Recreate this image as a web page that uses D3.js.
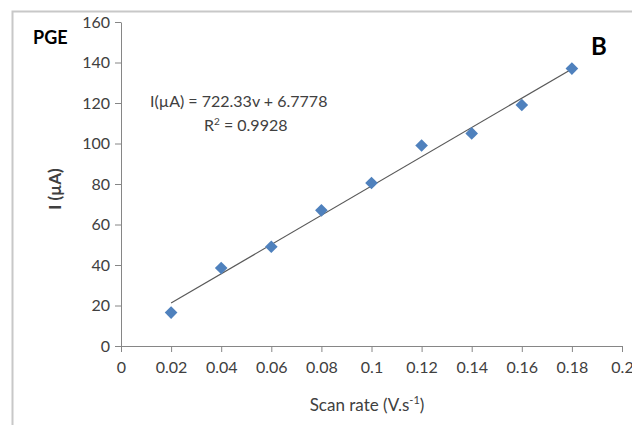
<!DOCTYPE html>
<html><head><meta charset="utf-8">
<script src="https://cdn.jsdelivr.net/npm/d3@7"></script>
<style>body{margin:0;background:#fff}svg{display:block}text{font-family:Lato,"Open Sans",sans-serif;fill:#404040}</style>
</head><body><svg id="c" width="632" height="425"></svg>
<script>
const scanRates = [0.02,0.04,0.06,0.08,0.10,0.12,0.14,0.16,0.18];
const currents = [16.5,38.5,49,67,80.5,99,105,119,137];
const xTicks = [0,0.02,0.04,0.06,0.08,0.1,0.12,0.14,0.16,0.18,0.2];
const yTicks = [0,20,40,60,80,100,120,140,160];
const slope = 722.33, intercept = 6.7778;

const svg = d3.select("#c");
const x = d3.scaleLinear().domain([0,0.2]).range([121,622]);
const y = d3.scaleLinear().domain([0,160]).range([346,22]);

// frame
svg.append("path").attr("d","M12.5,425 V11.5 H632").attr("fill","none").attr("stroke","#c8c8c8").attr("stroke-width",2);

const xa = svg.append("g").attr("transform","translate(0,346)")
  .call(d3.axisBottom(x).tickValues(xTicks).tickSize(6).tickSizeOuter(0).tickFormat(d=>d3.format("")(+d.toFixed(2))));
const ya = svg.append("g").attr("transform","translate(121,0)")
  .call(d3.axisLeft(y).tickValues(yTicks).tickSize(6).tickSizeOuter(0));
[xa,ya].forEach(a=>{a.attr("font-size",16);a.select(".domain").attr("stroke","#868686");a.selectAll(".tick line").attr("stroke","#868686");
  a.selectAll("text").attr("font-family","Lato,'Open Sans',sans-serif").attr("font-size",16).attr("fill","#404040");});
xa.selectAll("text").attr("dy","1.1em");
ya.selectAll("text").attr("x",-11);

// trendline
svg.append("line").attr("x1",x(0.02)).attr("y1",y(slope*0.02+intercept))
  .attr("x2",x(0.18)).attr("y2",y(slope*0.18+intercept)).attr("stroke","#595959").attr("stroke-width",1.2);

// markers
svg.selectAll(".pt").data(scanRates).join("path")
  .attr("d",d3.symbol(d3.symbolSquare,80))
  .attr("transform",(d,i)=>`translate(${x(d)},${y(currents[i])}) rotate(45)`)
  .attr("fill","#4f81bd");

svg.append("text").attr("x",33).attr("y",44).attr("font-size",18).attr("font-weight","bold").style("fill","#000").text("PGE");
svg.append("text").attr("x",591).attr("y",55).attr("font-size",24).attr("font-weight","bold").style("fill","#000").text("B");
svg.append("text").attr("x",150).attr("y",107).attr("font-size",16).text("I(µA) = 722.33v + 6.7778");
const r = svg.append("text").attr("x",204).attr("y",131).attr("font-size",16);
r.append("tspan").text("R");
r.append("tspan").attr("font-size",10).attr("dy",-6).text("2");
r.append("tspan").attr("dy",6).text(" = 0.9928");

svg.append("text").attr("transform","translate(61,189) rotate(-90)").attr("text-anchor","middle").attr("font-size",17).attr("font-weight","bold").text("I (µA)");
const xl = svg.append("text").attr("x",367).attr("y",411).attr("text-anchor","middle").attr("font-size",17);
xl.append("tspan").text("Scan rate (V.s");
xl.append("tspan").attr("font-size",11).attr("dy",-7).text("-1");
xl.append("tspan").attr("dy",7).text(")");
</script></body></html>
